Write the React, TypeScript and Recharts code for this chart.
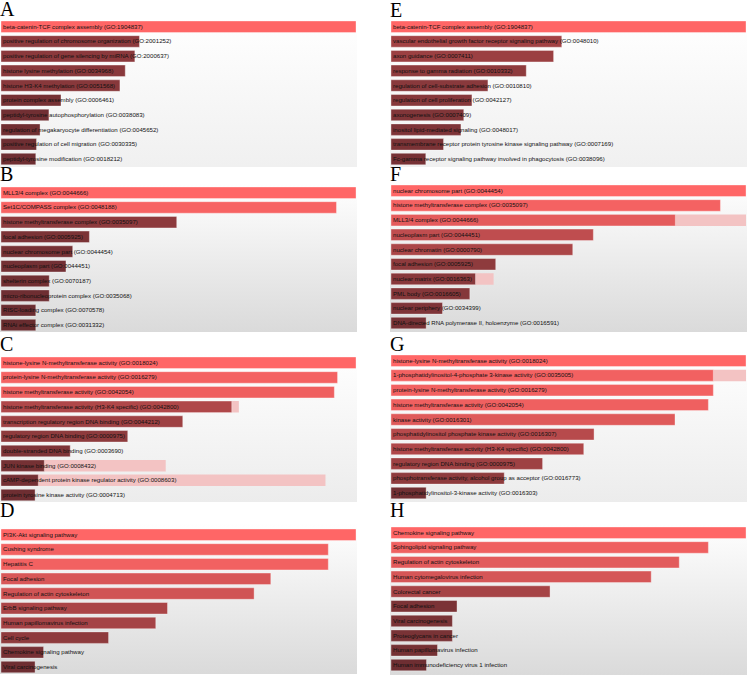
import { BarChart, Bar, XAxis, YAxis, Cell, LabelList } from "recharts";

// Panel A - GO Biological Process (set 1)
const aLabels = [
  "beta-catenin-TCF complex assembly (GO:1904837)",
  "positive regulation of chromosome organization (GO:2001252)",
  "positive regulation of gene silencing by miRNA (GO:2000637)",
  "histone lysine methylation (GO:0034968)",
  "histone H3-K4 methylation (GO:0051568)",
  "protein complex assembly (GO:0006461)",
  "peptidyl-tyrosine autophosphorylation (GO:0038083)",
  "regulation of megakaryocyte differentiation (GO:0045652)",
  "positive regulation of cell migration (GO:0030335)",
  "peptidyl-tyrosine modification (GO:0018212)",
];
const aValues = [1.0, 0.39, 0.377, 0.35, 0.335, 0.169, 0.135, 0.11, 0.1, 0.098];
const aShade = [1.0, 0.29, 0.28, 0.27, 0.26, 0.14, 0.12, 0.11, 0.1, 0.1];

// Panel B - GO Cellular Component (set 1)
const bLabels = [
  "MLL3/4 complex (GO:0044666)",
  "Set1C/COMPASS complex (GO:0048188)",
  "histone methyltransferase complex (GO:0035097)",
  "focal adhesion (GO:0005925)",
  "nuclear chromosome part (GO:0044454)",
  "nucleoplasm part (GO:0044451)",
  "shelterin complex (GO:0070187)",
  "micro-ribonucleoprotein complex (GO:0035068)",
  "RISC-loading complex (GO:0070578)",
  "RNAi effector complex (GO:0031332)",
];
const bValues = [1.0, 0.945, 0.495, 0.249, 0.202, 0.183, 0.136, 0.136, 0.098, 0.098];
const bShade = [1.0, 0.95, 0.29, 0.18, 0.14, 0.13, 0.11, 0.1, 0.08, 0.06];

// Panel C - GO Molecular Function (set 1)
const cLabels = [
  "histone-lysine N-methyltransferase activity (GO:0018024)",
  "protein-lysine N-methyltransferase activity (GO:0016279)",
  "histone methyltransferase activity (GO:0042054)",
  "histone methyltransferase activity (H3-K4 specific) (GO:0042800)",
  "transcription regulatory region DNA binding (GO:0044212)",
  "regulatory region DNA binding (GO:0000975)",
  "double-stranded DNA binding (GO:0003690)",
  "JUN kinase binding (GO:0008432)",
  "cAMP-dependent protein kinase regulator activity (GO:0008603)",
  "protein tyrosine kinase activity (GO:0004713)",
];
const cValues = [1.0, 0.948, 0.939, 0.65, 0.512, 0.357, 0.195, 0.122, 0.105, 0.096];
const cShadow = [0, 0, 0, 0.67, 0, 0, 0, 0.464, 0.914, 0];
const cShade = [1.0, 0.93, 0.9, 0.5, 0.4, 0.3, 0.2, 0.14, 0.13, 0.1];

// Panel D - KEGG (set 1)
const dLabels = [
  "PI3K-Akt signaling pathway",
  "Cushing syndrome",
  "Hepatitis C",
  "Focal adhesion",
  "Regulation of actin cytoskeleton",
  "ErbB signaling pathway",
  "Human papillomavirus infection",
  "Cell cycle",
  "Chemokine signaling pathway",
  "Viral carcinogenesis",
];
const dValues = [1.0, 0.922, 0.922, 0.76, 0.713, 0.469, 0.436, 0.303, 0.12, 0.096];
const dShade = [1.0, 0.92, 0.92, 0.76, 0.71, 0.47, 0.44, 0.3, 0.15, 0.1];

// Panel E - GO Biological Process (set 2)
const eLabels = [
  "beta-catenin-TCF complex assembly (GO:1904837)",
  "vascular endothelial growth factor receptor signaling pathway (GO:0048010)",
  "axon guidance (GO:0007411)",
  "response to gamma radiation (GO:0010332)",
  "regulation of cell-substrate adhesion (GO:0010810)",
  "regulation of cell proliferation (GO:0042127)",
  "axonogenesis (GO:0007409)",
  "inositol lipid-mediated signaling (GO:0048017)",
  "transmembrane receptor protein tyrosine kinase signaling pathway (GO:0007169)",
  "Fc-gamma receptor signaling pathway involved in phagocytosis (GO:0038096)",
];
const eValues = [1.0, 0.481, 0.458, 0.381, 0.273, 0.228, 0.205, 0.197, 0.148, 0.098];
const eShade = [1.0, 0.42, 0.38, 0.3, 0.27, 0.25, 0.22, 0.2, 0.18, 0.15];

// Panel F - GO Cellular Component (set 2)
const fLabels = [
  "nuclear chromosome part (GO:0044454)",
  "histone methyltransferase complex (GO:0035097)",
  "MLL3/4 complex (GO:0044666)",
  "nucleoplasm part (GO:0044451)",
  "nuclear chromatin (GO:0000790)",
  "focal adhesion (GO:0005925)",
  "nuclear matrix (GO:0016363)",
  "PML body (GO:0016605)",
  "nuclear periphery (GO:0034399)",
  "DNA-directed RNA polymerase II, holoenzyme (GO:0016591)",
];
const fValues = [1.0, 0.928, 0.801, 0.57, 0.512, 0.295, 0.238, 0.222, 0.145, 0.099];
const fShadow = [0, 0, 1.0, 0, 0, 0, 0.289, 0, 0, 0];
const fShade = [1.0, 0.93, 0.83, 0.6, 0.48, 0.3, 0.26, 0.24, 0.2, 0.15];

// Panel G - GO Molecular Function (set 2)
const gLabels = [
  "histone-lysine N-methyltransferase activity (GO:0018024)",
  "1-phosphatidylinositol-4-phosphate 3-kinase activity (GO:0035005)",
  "protein-lysine N-methyltransferase activity (GO:0016279)",
  "histone methyltransferase activity (GO:0042054)",
  "kinase activity (GO:0016301)",
  "phosphatidylinositol phosphate kinase activity (GO:0016307)",
  "histone methyltransferase activity (H3-K4 specific) (GO:0042800)",
  "regulatory region DNA binding (GO:0000975)",
  "phosphotransferase activity, alcohol group as acceptor (GO:0016773)",
  "1-phosphatidylinositol-3-kinase activity (GO:0016303)",
];
const gValues = [1.0, 0.908, 0.908, 0.894, 0.8, 0.572, 0.543, 0.427, 0.319, 0.099];
const gShadow = [0, 1.0, 0, 0, 0, 0, 0, 0, 0, 0];
const gShade = [1.0, 0.92, 0.92, 0.9, 0.8, 0.55, 0.5, 0.4, 0.3, 0.12];

// Panel H - KEGG (set 2)
const hLabels = [
  "Chemokine signaling pathway",
  "Sphingolipid signaling pathway",
  "Regulation of actin cytoskeleton",
  "Human cytomegalovirus infection",
  "Colorectal cancer",
  "Focal adhesion",
  "Viral carcinogenesis",
  "Proteoglycans in cancer",
  "Human papillomavirus infection",
  "Human immunodeficiency virus 1 infection",
];
const hValues = [1.0, 0.894, 0.812, 0.733, 0.448, 0.186, 0.173, 0.173, 0.131, 0.1];
const hShade = [1.0, 0.9, 0.82, 0.74, 0.45, 0.18, 0.17, 0.17, 0.14, 0.1];

const BAR = 11.5;
const ROW = 14.7;

// shade 0 -> dark maroon, shade 1 -> bright red
function barColor(s: number) {
  const r = Math.round(94 + 161 * s);
  const g = Math.round(40 + 62 * s);
  const b = Math.round(44 + 58 * s);
  return `rgb(${r},${g},${b})`;
}

function TermLabel(props: any) {
  const { x, y, height, value } = props;
  return (
    <text
      x={Number(x) + 2}
      y={Number(y) + Number(height) / 2}
      dy="0.33em"
      fill="#111"
      fontSize={6.1}
      fontFamily="'Liberation Sans', Arial, sans-serif"
    >
      {value}
    </text>
  );
}

interface PanelProps {
  letter: string;
  labels: string[];
  values: number[];
  shades: number[];
  shadow?: number[];
  x: number;
  bgTop: number;
  bgHeight: number;
  chartTop: number;
  letterTop: number;
  bgBottom: string;
}

function Panel({ letter, labels, values, shades, shadow, x, bgTop, bgHeight, chartTop, letterTop, bgBottom }: PanelProps) {
  const data = labels.map((name, i) => ({
    name,
    value: values[i],
    shade: shades[i],
    shadow: shadow && shadow[i] ? shadow[i] : 0,
  }));
  return (
    <>
      <div
        style={{
          position: "absolute",
          left: x - 1,
          top: letterTop,
          fontFamily: "'Liberation Serif', 'Times New Roman', serif",
          fontSize: 20,
          lineHeight: "16px",
          color: "#000",
        }}
      >
        {letter}
      </div>
      <div
        style={{
          position: "absolute",
          left: x - 1,
          top: bgTop,
          width: 357,
          height: bgHeight,
          background: `linear-gradient(to bottom, #ffffff, ${bgBottom})`,
        }}
      />
      <div style={{ position: "absolute", left: x, top: chartTop }}>
        <BarChart
          width={355}
          height={ROW * 10}
          data={data}
          layout="vertical"
          margin={{ top: 0, right: 0, bottom: 0, left: 0 }}
          barSize={BAR}
          barGap={-BAR}
        >
          <XAxis type="number" domain={[0, 1]} hide />
          <YAxis type="category" dataKey="name" hide />
          <Bar dataKey="shadow" fill="#f3c3c3" isAnimationActive={false} />
          <Bar dataKey="value" isAnimationActive={false} stroke="#ffffff" strokeOpacity={0.35} strokeWidth={1}>
            {data.map((d, i) => (
              <Cell key={i} fill={barColor(d.shade)} />
            ))}
            <LabelList dataKey="name" content={TermLabel} />
          </Bar>
        </BarChart>
      </div>
    </>
  );
}

export default function App() {
  return (
    <div style={{ position: "fixed", left: 0, top: 0, width: 753, height: 676, background: "#fff", overflow: "hidden" }}>
      <Panel letter="A" labels={aLabels} values={aValues} shades={aShade} x={1} bgTop={18} bgHeight={149} chartTop={18.5} letterTop={1} bgBottom="#f0f0f0" />
      <Panel letter="B" labels={bLabels} values={bValues} shades={bShade} x={1} bgTop={183} bgHeight={149} chartTop={184.5} letterTop={166} bgBottom="#dadada" />
      <Panel letter="C" labels={cLabels} values={cValues} shades={cShade} shadow={cShadow} x={1} bgTop={352} bgHeight={150} chartTop={354.5} letterTop={336} bgBottom="#ececec" />
      <Panel letter="D" labels={dLabels} values={dValues} shades={dShade} x={1} bgTop={523} bgHeight={151} chartTop={526.5} letterTop={502} bgBottom="#dadada" />
      <Panel letter="E" labels={eLabels} values={eValues} shades={eShade} x={391} bgTop={18} bgHeight={149} chartTop={18.5} letterTop={2} bgBottom="#f0f0f0" />
      <Panel letter="F" labels={fLabels} values={fValues} shades={fShade} shadow={fShadow} x={391} bgTop={181} bgHeight={151} chartTop={182.5} letterTop={166} bgBottom="#dadada" />
      <Panel letter="G" labels={gLabels} values={gValues} shades={gShade} shadow={gShadow} x={391} bgTop={351} bgHeight={151} chartTop={352.5} letterTop={336} bgBottom="#ececec" />
      <Panel letter="H" labels={hLabels} values={hValues} shades={hShade} x={391} bgTop={523} bgHeight={152} chartTop={524.5} letterTop={502} bgBottom="#dadada" />
    </div>
  );
}
